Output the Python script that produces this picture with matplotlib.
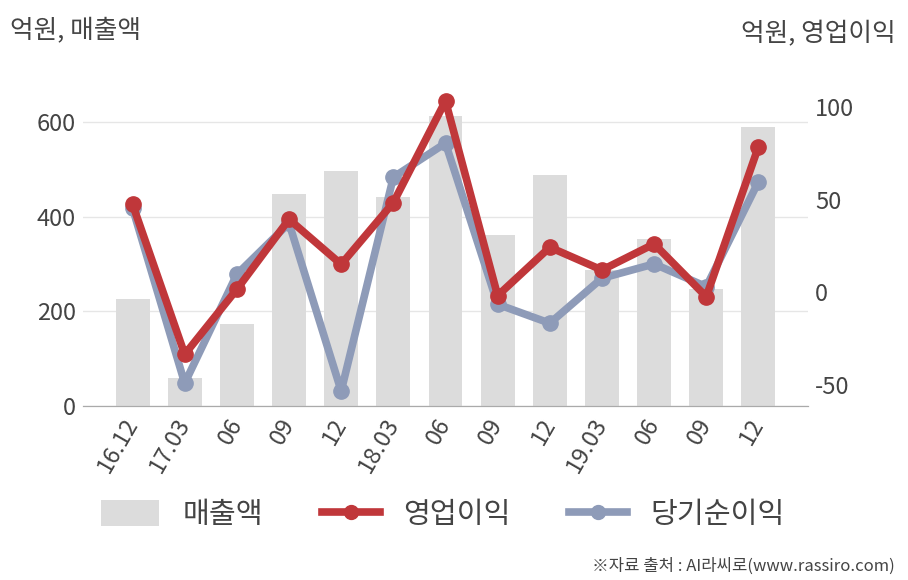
import matplotlib
matplotlib.use("Agg")
import matplotlib.pyplot as plt
from matplotlib.lines import Line2D
from matplotlib.patches import Patch

plt.rcParams['font.family'] = ['Noto Sans CJK KR', 'DejaVu Sans']
plt.rcParams['axes.unicode_minus'] = False

categories = ["16.12", "17.03", "06", "09", "12", "18.03", "06", "09", "12", "19.03", "06", "09", "12"]
sales = [226, 59, 173, 448, 497, 441, 613, 361, 489, 287, 353, 247, 591]
op_profit = [47.5, -33.5, 1.6, 39.4, 15.1, 48.4, 103.3, -1.8, 24.3, 12.0, 26.1, -2.4, 78.6]
net_profit = [45.4, -49.1, 9.7, 37.3, -53.3, 62.1, 80.5, -6.5, -16.7, 7.6, 15.3, 3.0, 59.7]
left_ticks = [0, 200, 400, 600]
right_ticks = [-50, 0, 50, 100]

BAR = "#dcdcdc"
RED = "#c0373a"
BLUE = "#8e9bb8"
TXT = "#444444"

W, H = 908, 580
fig = plt.figure(figsize=(W / 100, H / 100), dpi=100)
L, R, B, T = 83, 808, 406, 75
ax = fig.add_axes([L / W, 1 - B / H, (R - L) / W, (B - T) / H])
ax2 = ax.twinx()

x = list(range(len(categories)))
ax.bar(x, sales, width=0.65, color=BAR, zorder=2)
ax.set_xlim(-0.95, len(categories) - 1 + 0.95)
ax.set_ylim(0, 700)
ax.set_yticks(left_ticks)
ax.grid(axis='y', color="#e6e6e6", linewidth=1, zorder=0)
ax.set_axisbelow(True)

ax2.plot(x, net_profit, color=BLUE, linewidth=5.5, marker='o', markersize=11, zorder=3)
ax2.plot(x, op_profit, color=RED, linewidth=5.5, marker='o', markersize=11, zorder=4)
ax2.set_ylim(-61.4, 117.3)
ax2.set_yticks(right_ticks)

for a in (ax, ax2):
    for s in ('top', 'left', 'right'):
        a.spines[s].set_visible(False)
    a.spines['bottom'].set_color("#aaaaaa")
    a.tick_params(length=0, labelsize=17, labelcolor=TXT)

ax.tick_params(axis='y', pad=5)
ax2.tick_params(axis='y', pad=5)
ax.set_xticks(x)
ax.set_xticklabels(categories, rotation=60, ha='right', va='center', rotation_mode='anchor')
ax.tick_params(axis='x', pad=10)

fig.text(10 / W, 1 - 30 / H, "억원, 매출액", fontsize=18.5, color=TXT, va='center', ha='left')
fig.text(896 / W, 1 - 34 / H, "억원, 영업이익", fontsize=18.5, color=TXT, va='center', ha='right')
fig.text(895 / W, 1 - 566 / H, "※자료 출처 : AI라씨로(www.rassiro.com)", fontsize=12, color=TXT,
         va='center', ha='right')

handles = [
    Patch(facecolor=BAR, edgecolor='none'),
    Line2D([0], [0], color=RED, linewidth=5.5, marker='o', markersize=10),
    Line2D([0], [0], color=BLUE, linewidth=5.5, marker='o', markersize=10),
]
fig.legend(handles, ["매출액", "영업이익", "당기순이익"], loc='center', bbox_to_anchor=(0.488, 1 - 515 / H),
           ncol=3, frameon=False, fontsize=21, handlelength=2.0, handleheight=0.95,
           columnspacing=2.0, handletextpad=0.8, labelcolor=TXT)

fig.savefig("out.png", dpi=100)
